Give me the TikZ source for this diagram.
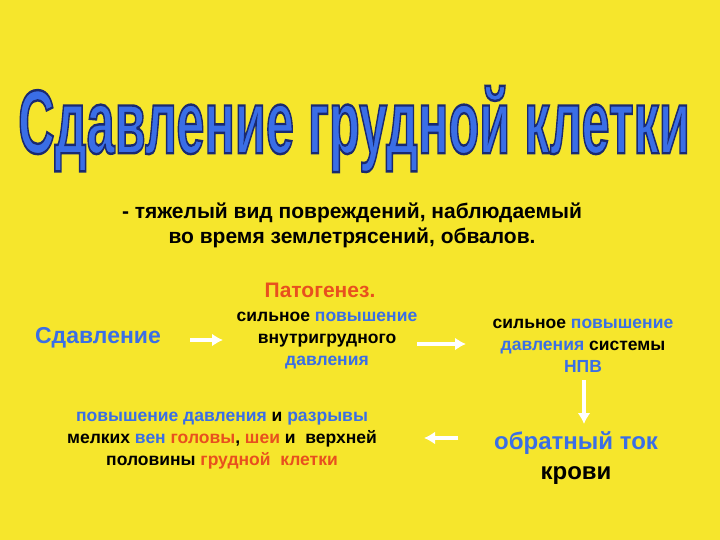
\documentclass[tikz,border=0pt]{standalone}
\usepackage{fontspec}
\setmainfont{Liberation Sans}
\definecolor{bg}{HTML}{F6E62C}
\definecolor{tb}{HTML}{3A6EE6}
\definecolor{tr}{HTML}{E8501E}
\newcommand{\B}[1]{\textcolor{tb}{#1}}
\newcommand{\R}[1]{\textcolor{tr}{#1}}
\usetikzlibrary{arrows.meta}
\tikzset{txt/.style={font=\bfseries\fontsize{17.5}{22}\selectfont, align=center, inner sep=0pt},
  arr/.style={white, line width=4pt, -{Latex[length=11pt,width=13pt]}}}
\begin{document}
\begin{tikzpicture}[x=1pt,y=-1pt]
\fill[bg] (0,0) rectangle (720,540);
\useasboundingbox (0,0) rectangle (720,540);
\node[inner sep=0pt, xscale=0.97, yscale=1.74, text=tb] (title) at (354,129)
  {\special{pdf:literal 2 Tr 1.4 w 0.1 0.16 0.44 RG}\bfseries\fontsize{52}{52}\selectfont Сдавление грудной клетки\special{pdf:literal 0 Tr}};
\node[txt, font=\bfseries\fontsize{21}{25}\selectfont] (intro) at (352,225) {- тяжелый вид повреждений, наблюдаемый\\во время землетрясений, обвалов.};
\node[txt, text=tr, font=\bfseries\fontsize{21}{24}\selectfont] (pat) at (320,290) {Патогенез.};
\node[txt, text=tb, font=\bfseries\fontsize{23}{26}\selectfont] (n1) at (98,338) {Сдавление};
\node[txt] (n2) at (327,341) {сильное \B{повышение}\\внутригрудного\\\B{давления}};
\node[txt] (n3) at (583,346) {сильное \B{повышение}\\\B{давления} системы\\\B{НПВ}};
\node[txt, font=\bfseries\fontsize{24}{30}\selectfont] (n4) at (576,458) {\B{обратный ток}\\крови};
\node[txt] (n5) at (222,441) {\B{повышение давления} и \B{разрывы}\\мелких \B{вен} \R{головы}, \R{шеи} и \ верхней\\половины \R{грудной\ \ клетки}};
\coordinate (a1s) at (190,340); \coordinate (a1e) at (223,340);
\draw[arr] (a1s) -- (a1e);
\draw[arr] (417,344) -- (466,344);
\draw[arr] (584,380) -- (584,424);
\draw[arr] (458,438) -- (424,438);
\end{tikzpicture}
\end{document}
